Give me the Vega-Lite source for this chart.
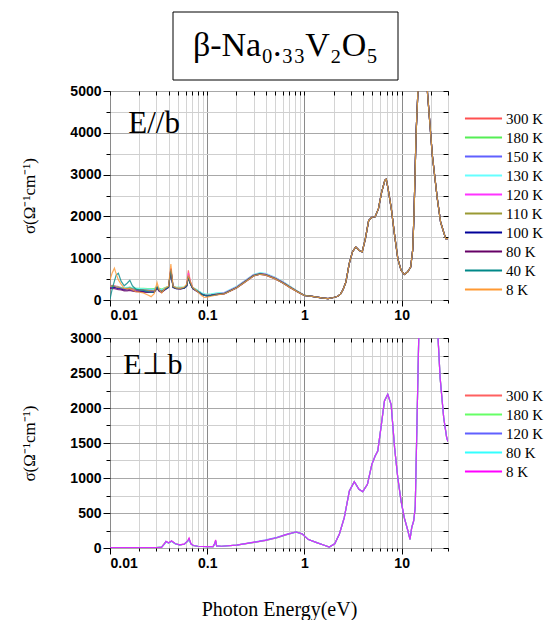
{
  "$schema": "https://vega.github.io/schema/vega-lite/v6.json",
  "padding": {"left": 20, "top": 11, "right": 2, "bottom": 0},
  "background": "white",
  "config": {
    "view": {"stroke": "black", "strokeWidth": 1},
    "axis": {"domain": false, "tickColor": "black", "labelColor": "black", "labelFont": "Liberation Sans", "labelFontWeight": "bold", "labelFontSize": 14, "titleFont": "Liberation Serif", "titleFontWeight": "normal", "titleColor": "black"},
    "legend": {"labelFont": "Liberation Serif", "labelFontSize": 15, "labelColor": "black"}
  },
  "datasets": {
    "top": [
      {"E":0.0100,"300":340,"180":320,"150":330,"130":310,"120":300,"110":320,"100":290,"80":280,"40":20,"8":480},
      {"E":0.0105,"300":350,"180":330,"150":320,"130":320,"120":300,"110":330,"100":290,"80":270,"40":250,"8":640},
      {"E":0.0111,"300":340,"180":320,"150":330,"130":320,"120":310,"110":320,"100":300,"80":270,"40":450,"8":760},
      {"E":0.0116,"300":330,"180":310,"150":310,"130":310,"120":300,"110":310,"100":280,"80":260,"40":600,"8":620},
      {"E":0.0122,"300":320,"180":300,"150":300,"130":300,"120":290,"110":300,"100":270,"80":250,"40":640,"8":480},
      {"E":0.0130,"300":300,"180":290,"150":290,"130":300,"120":270,"110":290,"100":260,"80":240,"40":450,"8":380},
      {"E":0.0140,"300":280,"180":280,"150":270,"130":290,"120":250,"110":270,"100":240,"80":220,"40":340,"8":280},
      {"E":0.0150,"300":290,"180":290,"150":280,"130":300,"120":260,"110":280,"100":240,"80":220,"40":400,"8":260},
      {"E":0.0160,"300":300,"180":300,"150":290,"130":310,"120":270,"110":290,"100":250,"80":230,"40":470,"8":270},
      {"E":0.0170,"300":280,"180":290,"150":270,"130":290,"120":250,"110":270,"100":230,"80":210,"40":340,"8":240},
      {"E":0.0185,"300":260,"180":280,"150":260,"130":280,"120":230,"110":250,"100":210,"80":200,"40":260,"8":200},
      {"E":0.0200,"300":250,"180":280,"150":250,"130":270,"120":220,"110":240,"100":210,"80":200,"40":240,"8":190},
      {"E":0.0220,"300":250,"180":280,"150":250,"130":270,"120":220,"110":240,"100":200,"80":190,"40":230,"8":170},
      {"E":0.0245,"300":240,"180":270,"150":240,"130":260,"120":210,"110":230,"100":190,"80":180,"40":200,"8":120},
      {"E":0.0265,"300":230,"180":270,"150":240,"130":260,"120":200,"110":220,"100":190,"80":180,"40":180,"8":80},
      {"E":0.0285,"300":240,"180":270,"150":240,"130":250,"120":210,"110":220,"100":190,"80":180,"40":190,"8":150},
      {"E":0.0305,"300":330,"180":330,"150":320,"130":320,"120":300,"110":310,"100":290,"80":280,"40":300,"8":420},
      {"E":0.0320,"300":260,"180":280,"150":260,"130":260,"120":230,"110":240,"100":220,"80":210,"40":230,"8":250},
      {"E":0.0340,"300":220,"180":260,"150":230,"130":240,"120":200,"110":210,"100":190,"80":180,"40":200,"8":170},
      {"E":0.0370,"300":280,"180":300,"150":280,"130":290,"120":260,"110":270,"100":250,"80":250,"40":260,"8":290},
      {"E":0.0400,"300":320,"180":330,"150":310,"130":320,"120":300,"110":310,"100":300,"80":300,"40":310,"8":330},
      {"E":0.0423,"300":760,"180":720,"150":740,"130":730,"120":760,"110":700,"100":740,"80":700,"40":720,"8":860},
      {"E":0.0445,"300":330,"180":330,"150":320,"130":330,"120":310,"110":310,"100":310,"80":300,"40":310,"8":330},
      {"E":0.0480,"300":290,"180":300,"150":290,"130":300,"120":280,"110":280,"100":270,"80":270,"40":280,"8":290},
      {"E":0.0530,"300":280,"180":300,"150":290,"130":300,"120":280,"110":280,"100":270,"80":260,"40":270,"8":280},
      {"E":0.0580,"300":300,"180":310,"150":300,"130":310,"120":290,"110":290,"100":280,"80":280,"40":290,"8":310},
      {"E":0.0615,"300":360,"180":350,"150":350,"130":350,"120":340,"110":340,"100":330,"80":330,"40":340,"8":380},
      {"E":0.0640,"300":710,"180":560,"150":580,"130":570,"120":640,"110":560,"100":560,"80":550,"40":560,"8":600},
      {"E":0.0670,"300":450,"180":400,"150":420,"130":410,"120":430,"110":400,"100":400,"80":390,"40":400,"8":440},
      {"E":0.0710,"300":300,"180":290,"150":290,"130":290,"120":290,"110":280,"100":280,"80":270,"40":280,"8":300},
      {"E":0.0760,"300":250,"180":260,"150":250,"130":260,"120":240,"110":240,"100":230,"80":230,"40":240,"8":240},
      {"E":0.0820,"300":200,"180":210,"150":200,"130":210,"120":190,"110":190,"100":180,"80":180,"40":190,"8":170},
      {"E":0.0880,"300":150,"180":160,"150":160,"130":170,"120":140,"110":140,"100":130,"80":130,"40":140,"8":100},
      {"E":0.0940,"300":120,"180":140,"150":130,"130":150,"120":120,"110":120,"100":110,"80":110,"40":110,"8":60},
      {"E":0.1000,"300":110,"180":130,"150":120,"130":140,"120":110,"110":110,"100":100,"80":100,"40":100,"8":70},
      {"E":0.1100,"300":120,"180":140,"150":130,"130":150,"120":120,"110":120,"100":110,"80":110,"40":110,"8":90},
      {"E":0.1250,"300":140,"180":160,"150":150,"130":170,"120":140,"110":140,"100":130,"80":130,"40":130,"8":120},
      {"E":0.15,"300":160,"180":175,"150":165,"130":185,"120":170,"110":160,"100":150,"80":145,"40":155,"8":145},
      {"E":0.2,"300":300,"180":315,"150":305,"130":325,"120":310,"110":300,"100":290,"80":285,"40":295,"8":285},
      {"E":0.25,"300":460,"180":475,"150":465,"130":485,"120":470,"110":460,"100":450,"80":445,"40":455,"8":445},
      {"E":0.3,"300":590,"180":605,"150":595,"130":615,"120":600,"110":590,"100":580,"80":575,"40":585,"8":575},
      {"E":0.35,"300":630,"180":645,"150":635,"130":655,"120":640,"110":630,"100":620,"80":615,"40":625,"8":615},
      {"E":0.4,"300":610,"180":625,"150":615,"130":635,"120":620,"110":610,"100":600,"80":595,"40":605,"8":595},
      {"E":0.5,"300":520,"180":535,"150":525,"130":545,"120":530,"110":520,"100":510,"80":505,"40":515,"8":505},
      {"E":0.6,"300":420,"180":435,"150":425,"130":445,"120":430,"110":420,"100":410,"80":405,"40":415,"8":405},
      {"E":0.7,"300":320,"180":332,"150":325,"130":340,"120":328,"110":320,"100":312,"80":308,"40":316,"8":308},
      {"E":0.85,"300":200,"180":208,"150":204,"130":212,"120":205,"110":200,"100":196,"80":194,"40":198,"8":194},
      {"E":1.0,"300":110,"180":112,"150":110,"130":114,"120":111,"110":110,"100":108,"80":108,"40":109,"8":108},
      {"E":1.2,"300":85,"180":85,"150":85,"130":85,"120":85,"110":85,"100":85,"80":85,"40":85,"8":85},
      {"E":1.5,"300":50,"180":50,"150":50,"130":50,"120":50,"110":50,"100":50,"80":50,"40":50,"8":50},
      {"E":1.75,"300":35,"180":35,"150":35,"130":35,"120":35,"110":35,"100":35,"80":35,"40":35,"8":35},
      {"E":2.0,"300":60,"180":60,"150":60,"130":60,"120":60,"110":60,"100":60,"80":60,"40":60,"8":60},
      {"E":2.2,"300":90,"180":90,"150":90,"130":90,"120":90,"110":90,"100":90,"80":90,"40":90,"8":90},
      {"E":2.35,"300":140,"180":140,"150":140,"130":140,"120":140,"110":140,"100":140,"80":140,"40":140,"8":140},
      {"E":2.5,"300":250,"180":250,"150":250,"130":250,"120":250,"110":250,"100":250,"80":250,"40":250,"8":250},
      {"E":2.67,"300":430,"180":430,"150":430,"130":430,"120":430,"110":430,"100":430,"80":430,"40":430,"8":430},
      {"E":2.89,"300":870,"180":870,"150":870,"130":870,"120":870,"110":870,"100":870,"80":870,"40":870,"8":870},
      {"E":3.12,"300":1150,"180":1150,"150":1150,"130":1150,"120":1150,"110":1150,"100":1150,"80":1150,"40":1150,"8":1150},
      {"E":3.37,"300":1270,"180":1270,"150":1270,"130":1270,"120":1270,"110":1270,"100":1270,"80":1270,"40":1270,"8":1270},
      {"E":3.64,"300":1190,"180":1190,"150":1190,"130":1190,"120":1190,"110":1190,"100":1190,"80":1190,"40":1190,"8":1190},
      {"E":3.93,"300":1150,"180":1150,"150":1150,"130":1150,"120":1150,"110":1150,"100":1150,"80":1150,"40":1150,"8":1150},
      {"E":4.24,"300":1470,"180":1470,"150":1470,"130":1470,"120":1470,"110":1470,"100":1470,"80":1470,"40":1470,"8":1470},
      {"E":4.58,"300":1900,"180":1900,"150":1900,"130":1900,"120":1900,"110":1900,"100":1900,"80":1900,"40":1900,"8":1900},
      {"E":4.94,"300":1980,"180":1980,"150":1980,"130":1980,"120":1980,"110":1980,"100":1980,"80":1980,"40":1980,"8":1980},
      {"E":5.34,"300":1990,"180":1990,"150":1990,"130":1990,"120":1990,"110":1990,"100":1990,"80":1990,"40":1990,"8":1990},
      {"E":5.77,"300":2180,"180":2180,"150":2180,"130":2180,"120":2180,"110":2180,"100":2180,"80":2180,"40":2180,"8":2180},
      {"E":6.23,"300":2580,"180":2580,"150":2580,"130":2580,"120":2580,"110":2580,"100":2580,"80":2580,"40":2580,"8":2580},
      {"E":6.72,"300":2860,"180":2860,"150":2860,"130":2860,"120":2860,"110":2860,"100":2860,"80":2860,"40":2860,"8":2860},
      {"E":6.95,"300":2890,"180":2890,"150":2890,"130":2890,"120":2890,"110":2890,"100":2890,"80":2890,"40":2890,"8":2890},
      {"E":7.26,"300":2660,"180":2660,"150":2660,"130":2660,"120":2660,"110":2660,"100":2660,"80":2660,"40":2660,"8":2660},
      {"E":7.84,"300":2180,"180":2180,"150":2180,"130":2180,"120":2180,"110":2180,"100":2180,"80":2180,"40":2180,"8":2180},
      {"E":8.47,"300":1550,"180":1550,"150":1550,"130":1550,"120":1550,"110":1550,"100":1550,"80":1550,"40":1550,"8":1550},
      {"E":9.14,"300":990,"180":990,"150":990,"130":990,"120":990,"110":990,"100":990,"80":990,"40":990,"8":990},
      {"E":9.87,"300":710,"180":710,"150":710,"130":710,"120":710,"110":710,"100":710,"80":710,"40":710,"8":710},
      {"E":10.66,"300":610,"180":610,"150":610,"130":610,"120":610,"110":610,"100":610,"80":610,"40":610,"8":610},
      {"E":11.5,"300":670,"180":670,"150":670,"130":670,"120":670,"110":670,"100":670,"80":670,"40":670,"8":670},
      {"E":12.4,"300":790,"180":790,"150":790,"130":790,"120":790,"110":790,"100":790,"80":790,"40":790,"8":790},
      {"E":13.0,"300":1200,"180":1200,"150":1200,"130":1200,"120":1200,"110":1200,"100":1200,"80":1200,"40":1200,"8":1200},
      {"E":13.4,"300":2020,"180":2020,"150":2020,"130":2020,"120":2020,"110":2020,"100":2020,"80":2020,"40":2020,"8":2020},
      {"E":14.1,"300":4010,"180":4010,"150":4010,"130":4010,"120":4010,"110":4010,"100":4010,"80":4010,"40":4010,"8":4010},
      {"E":14.7,"300":4970,"180":4970,"150":4970,"130":4970,"120":4970,"110":4970,"100":4970,"80":4970,"40":4970,"8":4970},
      {"E":16.0,"300":5800,"180":5800,"150":5800,"130":5800,"120":5800,"110":5800,"100":5800,"80":5800,"40":5800,"8":5800},
      {"E":18.4,"300":5000,"180":5000,"150":5000,"130":5000,"120":5000,"110":5000,"100":5000,"80":5000,"40":5000,"8":5000},
      {"E":20.7,"300":3460,"180":3460,"150":3460,"130":3460,"120":3460,"110":3460,"100":3460,"80":3460,"40":3460,"8":3460},
      {"E":23.3,"300":2420,"180":2420,"150":2420,"130":2420,"120":2420,"110":2420,"100":2420,"80":2420,"40":2420,"8":2420},
      {"E":25.2,"300":1860,"180":1860,"150":1860,"130":1860,"120":1860,"110":1860,"100":1860,"80":1860,"40":1860,"8":1860},
      {"E":28.4,"300":1470,"180":1470,"150":1470,"130":1470,"120":1470,"110":1470,"100":1470,"80":1470,"40":1470,"8":1470},
      {"E":30.0,"300":1470,"180":1470,"150":1470,"130":1470,"120":1470,"110":1470,"100":1470,"80":1470,"40":1470,"8":1470}
    ],
    "bot": [
      {"E":0.01,"300":5,"180":5,"120":5,"80":5,"8":5},
      {"E":0.02,"300":5,"180":6,"120":5,"80":4,"8":6},
      {"E":0.03,"300":5,"180":5,"120":6,"80":5,"8":5},
      {"E":0.034,"300":15,"180":12,"120":14,"80":12,"8":10},
      {"E":0.0365,"300":70,"180":65,"120":60,"80":62,"8":65},
      {"E":0.0376,"300":90,"180":85,"120":95,"80":88,"8":95},
      {"E":0.040,"300":75,"180":72,"120":70,"80":74,"8":75},
      {"E":0.043,"300":100,"180":95,"120":100,"80":96,"8":100},
      {"E":0.047,"300":60,"180":58,"120":60,"80":59,"8":60},
      {"E":0.052,"300":45,"180":44,"120":45,"80":45,"8":45},
      {"E":0.058,"300":55,"180":53,"120":55,"80":54,"8":55},
      {"E":0.063,"300":100,"180":95,"120":100,"80":98,"8":100},
      {"E":0.065,"300":135,"180":120,"120":130,"80":125,"8":140},
      {"E":0.068,"300":60,"180":58,"120":60,"80":59,"8":60},
      {"E":0.072,"300":35,"180":34,"120":35,"80":35,"8":35},
      {"E":0.08,"300":25,"180":25,"120":25,"80":25,"8":25},
      {"E":0.1,"300":20,"180":20,"120":20,"80":20,"8":20},
      {"E":0.115,"300":20,"180":20,"120":20,"80":20,"8":20},
      {"E":0.12,"300":70,"180":60,"120":65,"80":62,"8":70},
      {"E":0.122,"300":110,"180":95,"120":105,"80":100,"8":115},
      {"E":0.125,"300":30,"180":28,"120":30,"80":29,"8":30},
      {"E":0.14,"300":25,"180":25,"120":25,"80":25,"8":25},
      {"E":0.2,"300":40,"180":40,"120":42,"80":40,"8":40},
      {"E":0.3,"300":80,"180":78,"120":84,"80":79,"8":80},
      {"E":0.4,"300":110,"180":108,"120":115,"80":109,"8":110},
      {"E":0.52,"300":147,"180":145,"120":152,"80":146,"8":147},
      {"E":0.65,"300":190,"180":188,"120":194,"80":189,"8":190},
      {"E":0.82,"300":228,"180":226,"120":230,"80":227,"8":228},
      {"E":0.95,"300":200,"180":200,"120":202,"80":200,"8":200},
      {"E":1.1,"300":120,"180":120,"120":120,"80":120,"8":120},
      {"E":1.34,"300":76,"180":76,"120":76,"80":76,"8":76},
      {"E":1.6,"300":40,"180":40,"120":40,"80":40,"8":40},
      {"E":1.8,"300":14,"180":14,"120":14,"80":14,"8":14},
      {"E":2.05,"300":60,"180":60,"120":60,"80":60,"8":60},
      {"E":2.29,"300":200,"180":200,"120":200,"80":200,"8":200},
      {"E":2.57,"300":433,"180":433,"120":433,"80":433,"8":433},
      {"E":2.9,"300":815,"180":815,"120":815,"80":815,"8":815},
      {"E":3.26,"300":948,"180":948,"120":948,"80":948,"8":948},
      {"E":3.64,"300":838,"180":838,"120":838,"80":838,"8":838},
      {"E":3.98,"300":805,"180":805,"120":805,"80":805,"8":805},
      {"E":4.45,"300":910,"180":910,"120":910,"80":910,"8":910},
      {"E":4.94,"300":1195,"180":1195,"120":1195,"80":1195,"8":1195},
      {"E":5.34,"300":1315,"180":1315,"120":1315,"80":1315,"8":1315},
      {"E":5.68,"300":1385,"180":1385,"120":1385,"80":1385,"8":1385},
      {"E":6.0,"300":1624,"180":1624,"120":1624,"80":1624,"8":1624},
      {"E":6.66,"300":2100,"180":2100,"120":2100,"80":2100,"8":2100},
      {"E":7.2,"300":2195,"180":2195,"120":2195,"80":2195,"8":2195},
      {"E":7.8,"300":2050,"180":2050,"120":2050,"80":2050,"8":2050},
      {"E":8.47,"300":1430,"180":1430,"120":1430,"80":1430,"8":1430},
      {"E":9.14,"300":1000,"180":1000,"120":1000,"80":1000,"8":1000},
      {"E":9.87,"300":670,"180":670,"120":670,"80":670,"8":670},
      {"E":10.66,"300":430,"180":430,"120":430,"80":430,"8":430},
      {"E":11.5,"300":266,"180":266,"120":266,"80":266,"8":266},
      {"E":12.2,"300":124,"180":124,"120":124,"80":124,"8":124},
      {"E":12.7,"300":290,"180":290,"120":290,"80":290,"8":290},
      {"E":13.3,"300":386,"180":386,"120":386,"80":386,"8":386},
      {"E":13.8,"300":576,"180":576,"120":576,"80":576,"8":576},
      {"E":14.4,"300":1810,"180":1810,"120":1810,"80":1810,"8":1810},
      {"E":15.1,"300":3200,"180":3200,"120":3200,"80":3200,"8":3200},
      {"E":17.0,"300":3900,"180":3900,"120":3900,"80":3900,"8":3900},
      {"E":20.0,"300":3700,"180":3700,"120":3700,"80":3700,"8":3700},
      {"E":23.7,"300":3000,"180":3000,"120":3000,"80":3000,"8":3000},
      {"E":24.9,"300":2430,"180":2430,"120":2430,"80":2430,"8":2430},
      {"E":27.1,"300":1860,"180":1860,"120":1860,"80":1860,"8":1860},
      {"E":29.1,"300":1575,"180":1575,"120":1575,"80":1575,"8":1575},
      {"E":30.0,"300":1520,"180":1520,"120":1520,"80":1520,"8":1520}
    ]
  },
  "spacing": 2,
  "resolve": {"scale": {"color": "independent"}},
  "vconcat": [
    {
      "spacing": 0,
      "hconcat": [
        {
          "width": 62,
          "height": 68,
          "view": {"stroke": null},
          "data": {"values": [{"t": ""}]},
          "mark": {"type": "text"},
          "encoding": {"text": {"field": "t"}}
        },
        {
          "width": 225,
          "height": 68,
          "data": {"values": [{"t": "β-Na₀.₃₃V₂O₅"}]},
          "layer": [
            {"mark": {"type": "rect", "fill": "white", "stroke": "black", "strokeWidth": 1}, "encoding": {}},
            {"mark": {"type": "text", "font": "Liberation Serif", "fontSize": 34, "color": "black"}, "encoding": {"text": {"field": "t"}}}
          ]
        }
      ]
    },
    {
      "spacing": 7,
      "resolve": {"scale": {"color": "independent"}},
      "vconcat": [
        {
          "width": 338,
          "height": 209,
          "resolve": {"axis": {"x": "independent", "y": "independent"}},
          "layer": [
            {
              "data": {"name": "top"},
              "transform": [{"fold": ["300","180","150","130","120","110","100","80","40","8"], "as": ["T", "sigma"]}],
              "mark": {"type": "line", "strokeWidth": 1.2, "clip": true, "opacity": 0.8},
              "encoding": {
                "x": {"field": "E", "type": "quantitative",
                  "scale": {"type": "log", "domain": [0.01, 30], "nice": false},
                  "axis": {"title": null, "values": [0.01,0.02,0.03,0.04,0.05,0.06,0.07,0.08,0.09,0.1,0.2,0.3,0.4,0.5,0.6,0.7,0.8,0.9,1,2,3,4,5,6,7,8,9,10,20,30],
                    "labelExpr": "indexof([0.01,0.1,1,10], datum.value) >= 0 ? format(datum.value, '~g') : ''",
                    "grid": true,
                    "gridColor": {"condition": {"test": "indexof([0.01,0.1,1,10], datum.value) >= 0", "value": "#8a8a8a"}, "value": "#d4d4d4"},
                    "tickSize": {"condition": {"test": "indexof([0.01,0.1,1,10], datum.value) >= 0", "value": 6}, "value": 3},
                    "labelPadding": 2}},
                "y": {"field": "sigma", "type": "quantitative",
                  "scale": {"domain": [0, 5000], "nice": false},
                  "axis": {"title": "σ(Ω⁻¹cm⁻¹)", "titleFontSize": 17, "titlePadding": 31,
                    "values": [0,500,1000,1500,2000,2500,3000,3500,4000,4500,5000], "format": "d",
                    "labelExpr": "datum.value % 1000 == 0 ? datum.label : ''",
                    "grid": true,
                    "gridColor": {"condition": {"test": "datum.value % 1000 == 0", "value": "#a8a8a8"}, "value": "#cfcfcf"},
                    "tickSize": {"condition": {"test": "datum.value % 1000 == 0", "value": 7}, "value": 4}}},
                "color": {"field": "T", "type": "nominal",
                  "scale": {"domain": ["300","180","150","130","120","110","100","80","40","8"],
                    "range": ["#ff5050","#55ee55","#6060ff","#66ffff","#ff33ff","#999933","#000099","#660066","#008888","#ff9933"]},
                  "legend": {"title": null, "orient": "none", "legendX": 366, "legendY": 20, "padding": 0,
                    "symbolType": "M-4,0H4", "symbolSize": 86, "symbolStrokeWidth": 2, "symbolOpacity": 1, "labelOffset": 15, "rowPadding": 3,
                    "labelExpr": "datum.label + ' K'"}}
              }
            },
            {
              "data": {"values": [{"x": 0.0154, "y": 3990, "t": "E//b"}]},
              "mark": {"type": "text", "align": "left", "baseline": "alphabetic", "font": "Liberation Serif", "fontSize": 31, "color": "black"},
              "encoding": {
                "x": {"field": "x", "type": "quantitative",
                  "axis": {"orient": "top", "title": null, "labels": false, "grid": false, "ticks": true, "tickColor": "black", "tickSize": -4,
                    "values": [0.01,0.02,0.03,0.04,0.05,0.06,0.07,0.08,0.09,0.1,0.2,0.3,0.4,0.5,0.6,0.7,0.8,0.9,1,2,3,4,5,6,7,8,9,10,20,30]}},
                "y": {"field": "y", "type": "quantitative",
                  "axis": {"orient": "right", "title": null, "labels": false, "grid": false, "ticks": true, "tickColor": "black", "tickSize": -5,
                    "values": [0,500,1000,1500,2000,2500,3000,3500,4000,4500,5000]}},
                "text": {"field": "t"}
              }
            }
          ]
        },
        {
          "width": 338,
          "height": 210,
          "resolve": {"axis": {"x": "independent", "y": "independent"}},
          "layer": [
            {
              "data": {"name": "bot"},
              "transform": [{"fold": ["300","180","120","80","8"], "as": ["T", "sigma"]}],
              "mark": {"type": "line", "strokeWidth": 1.2, "clip": true, "opacity": 0.8},
              "encoding": {
                "x": {"field": "E", "type": "quantitative",
                  "scale": {"type": "log", "domain": [0.01, 30], "nice": false},
                  "axis": {"title": "Photon Energy(eV)", "titleFontSize": 20, "titlePadding": 29,
                    "values": [0.01,0.02,0.03,0.04,0.05,0.06,0.07,0.08,0.09,0.1,0.2,0.3,0.4,0.5,0.6,0.7,0.8,0.9,1,2,3,4,5,6,7,8,9,10,20,30],
                    "labelExpr": "indexof([0.01,0.1,1,10], datum.value) >= 0 ? format(datum.value, '~g') : ''",
                    "grid": true,
                    "gridColor": {"condition": {"test": "indexof([0.01,0.1,1,10], datum.value) >= 0", "value": "#8a8a8a"}, "value": "#d4d4d4"},
                    "tickSize": {"condition": {"test": "indexof([0.01,0.1,1,10], datum.value) >= 0", "value": 6}, "value": 3},
                    "labelPadding": 2}},
                "y": {"field": "sigma", "type": "quantitative",
                  "scale": {"domain": [0, 3000], "nice": false},
                  "axis": {"title": "σ(Ω⁻¹cm⁻¹)", "titleFontSize": 17, "titlePadding": 31,
                    "values": [0,250,500,750,1000,1250,1500,1750,2000,2250,2500,2750,3000], "format": "d",
                    "labelExpr": "datum.value % 500 == 0 ? datum.label : ''",
                    "grid": true,
                    "gridColor": {"condition": {"test": "datum.value % 500 == 0", "value": "#a8a8a8"}, "value": "#cfcfcf"},
                    "tickSize": {"condition": {"test": "datum.value % 500 == 0", "value": 7}, "value": 4}}},
                "color": {"field": "T", "type": "nominal",
                  "scale": {"domain": ["300","180","120","80","8"],
                    "range": ["#ff6060","#66ff66","#6060ff","#33ffff","#ff00ff"]},
                  "legend": {"title": null, "orient": "none", "legendX": 366, "legendY": 50, "padding": 0,
                    "symbolType": "M-4,0H4", "symbolSize": 86, "symbolStrokeWidth": 2, "symbolOpacity": 1, "labelOffset": 15, "rowPadding": 3,
                    "labelExpr": "datum.label + ' K'"}}
              }
            },
            {
              "data": {"values": [{"x": 0.0137, "y": 2486, "t": "E⊥b"}]},
              "mark": {"type": "text", "align": "left", "baseline": "alphabetic", "font": "Liberation Serif", "fontSize": 30, "color": "black"},
              "encoding": {
                "x": {"field": "x", "type": "quantitative",
                  "axis": {"orient": "top", "title": null, "labels": false, "grid": false, "ticks": true, "tickColor": "black", "tickSize": -4,
                    "values": [0.01,0.02,0.03,0.04,0.05,0.06,0.07,0.08,0.09,0.1,0.2,0.3,0.4,0.5,0.6,0.7,0.8,0.9,1,2,3,4,5,6,7,8,9,10,20,30]}},
                "y": {"field": "y", "type": "quantitative",
                  "axis": {"orient": "right", "title": null, "labels": false, "grid": false, "ticks": true, "tickColor": "black", "tickSize": -5,
                    "values": [0,250,500,750,1000,1250,1500,1750,2000,2250,2500,2750,3000]}},
                "text": {"field": "t"}
              }
            }
          ]
        }
      ]
    }
  ]
}
